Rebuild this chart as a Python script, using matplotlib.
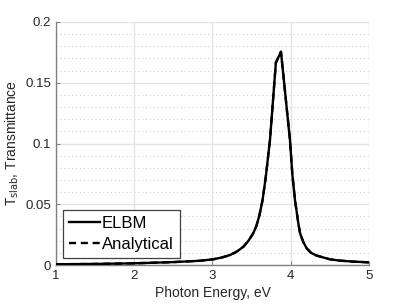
import matplotlib
matplotlib.use('Agg')
import matplotlib.pyplot as plt
from matplotlib.ticker import MultipleLocator

plt.rcParams['font.family'] = ['Liberation Sans', 'DejaVu Sans']

# transmittance of the slab
energy = [1.0, 1.5, 2.0, 2.5, 2.84, 3.01, 3.12, 3.224, 3.31, 3.394, 3.46,
          3.52, 3.56, 3.60, 3.64, 3.68, 3.735, 3.81, 3.875, 3.99, 4.02,
          4.054, 4.08, 4.10, 4.12, 4.16, 4.204, 4.26, 4.33, 4.50, 4.63,
          4.80, 5.0]
t_slab = [0.0006, 0.0009, 0.0014, 0.0024, 0.0035, 0.0047, 0.0062, 0.0082,
          0.011, 0.015, 0.020, 0.026, 0.032, 0.041, 0.0535, 0.072, 0.103,
          0.1665, 0.1755, 0.103, 0.075, 0.0535, 0.042, 0.033, 0.026, 0.019,
          0.0137, 0.0100, 0.0078, 0.0047, 0.0036, 0.0028, 0.0022]

fig = plt.figure(figsize=(4.07, 3.05), dpi=100)
ax = fig.add_axes([0.1376, 0.1311, 0.769, 0.7968])

ax.plot(energy, t_slab, color='black', lw=1.7, label='ELBM', zorder=3)
ax.plot(energy, t_slab, color='black', lw=1.7, ls='--', dashes=(3, 2),
        label='Analytical', zorder=4)

ax.set_xlim(1, 5)
ax.set_ylim(0, 0.2)
ax.set_xticks([1, 2, 3, 4, 5])
ax.set_yticks([0, 0.05, 0.1, 0.15, 0.2])
ax.set_yticklabels(['0', '0.05', '0.1', '0.15', '0.2'])
ax.yaxis.set_minor_locator(MultipleLocator(0.01))

ax.grid(True, which='major', color='#e3e3e3', lw=0.9)
ax.grid(True, which='minor', axis='y', color='#d0d0d0', lw=0.8, ls=(0, (1, 2.5)))
ax.set_axisbelow(True)

for s in ['top', 'right']:
    ax.spines[s].set_visible(False)
for s in ['left', 'bottom']:
    ax.spines[s].set_color('#808080')
    ax.spines[s].set_linewidth(1.0)

ax.tick_params(which='major', direction='in', length=3, width=0.8,
               colors='#808080', labelcolor='#262626', labelsize=9.5)
ax.tick_params(which='minor', length=0)

ax.set_xlabel('Photon Energy, eV', fontsize=10, color='#262626', labelpad=3)
ax.set_ylabel('T$_{\\mathrm{slab}}$, Transmittance', fontsize=10,
              color='#262626', labelpad=3)

leg = ax.legend(loc='lower left', bbox_to_anchor=(0.022, 0.03), fontsize=12,
                frameon=True, fancybox=False, handlelength=1.9,
                handletextpad=0.1, borderpad=0.35, labelspacing=0.35,
                borderaxespad=0.0)
leg.get_frame().set_edgecolor('#404040')
leg.get_frame().set_linewidth(0.9)
leg.get_frame().set_alpha(1.0)

fig.savefig('out.png', dpi=100)
